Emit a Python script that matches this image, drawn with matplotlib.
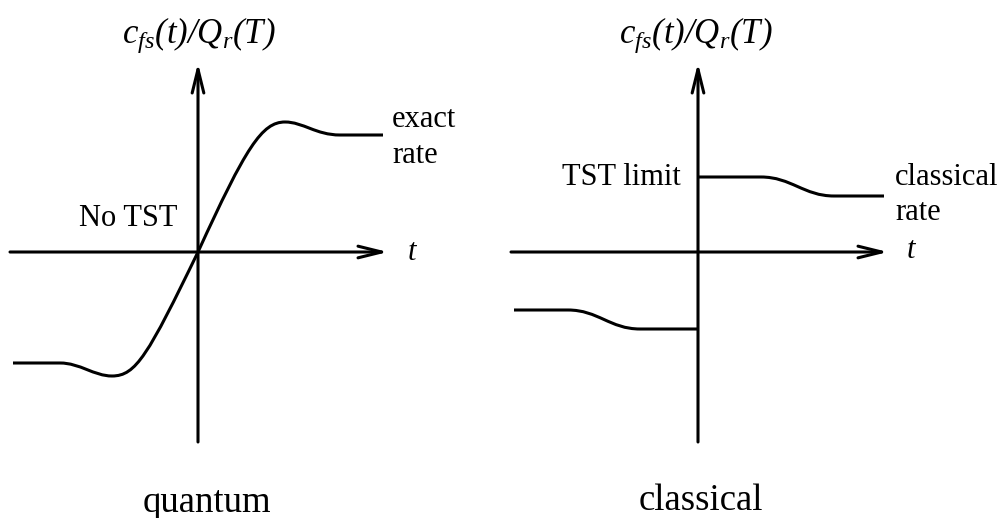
import matplotlib
matplotlib.use("Agg")
import matplotlib.pyplot as plt
from matplotlib.path import Path
from matplotlib.patches import PathPatch

plt.rcParams["font.family"] = ["Liberation Serif", "DejaVu Serif"]
plt.rcParams["mathtext.fontset"] = "custom"
plt.rcParams["mathtext.rm"] = "Liberation Serif:italic"
plt.rcParams["mathtext.it"] = "Liberation Serif:italic"

# flux-side correlation sketches, t and c in arbitrary units
# each curve is a chain of line / cubic Bezier pieces
quantum_t = [-1.85, -1.38, -1.18, -1.04, -0.86, -0.62, -0.50, 0.0,
             0.48, 0.64, 0.87, 1.05, 1.18, 1.42, 1.85]
quantum_c = [-1.11, -1.11, -1.11, -1.24, -1.24, -1.24, -1.03, 0.0,
             1.05, 1.30, 1.30, 1.30, 1.17, 1.17, 1.17]
quantum_codes = [Path.MOVETO, Path.LINETO,
                 Path.CURVE4, Path.CURVE4, Path.CURVE4,
                 Path.CURVE4, Path.CURVE4, Path.CURVE4,
                 Path.CURVE4, Path.CURVE4, Path.CURVE4,
                 Path.CURVE4, Path.CURVE4, Path.CURVE4,
                 Path.LINETO]

classical_pos_t = [0.0, 0.63, 0.93, 1.06, 1.36, 1.86]
classical_pos_c = [0.75, 0.75, 0.75, 0.56, 0.56, 0.56]
classical_neg_t = [-1.84, -1.30, -1.00, -0.88, -0.58, 0.0]
classical_neg_c = [-0.58, -0.58, -0.58, -0.77, -0.77, -0.77]
step_codes = [Path.MOVETO, Path.LINETO,
              Path.CURVE4, Path.CURVE4, Path.CURVE4, Path.LINETO]

ylabel = r"$c_{fs}(t)/Q_r(T)$"
panel_titles = ["quantum", "classical"]

LW = 2.2
FS_LABEL = 22
FS_YLABEL = 25
FS_TITLE = 26.5

fig = plt.figure(figsize=(10.03, 5.18), dpi=100)
ax_q = fig.add_axes([0.0, 0.0, 0.5, 1.0])
ax_c = fig.add_axes([0.5, 0.0, 0.5, 1.0])
ax_q.set_xlim(-1.98, 3.035)
ax_c.set_xlim(-1.965, 3.05)
for ax in (ax_q, ax_c):
    ax.set_ylim(-2.66, 2.52)
    ax.axis("off")


def draw_axes(ax, x0, x1, y0, y1):
    arrow = dict(arrowstyle="->,head_length=1.7,head_width=0.42",
                 lw=LW, color="black", shrinkA=0, shrinkB=0)
    ax.annotate("", xy=(x1, 0), xytext=(x0, 0), arrowprops=arrow)
    ax.annotate("", xy=(0, y1), xytext=(0, y0), arrowprops=arrow)


def draw_curve(ax, t, c, codes):
    path = Path(list(zip(t, c)), codes)
    ax.add_patch(PathPatch(path, fill=False, lw=LW, edgecolor="black",
                           capstyle="butt", joinstyle="round"))


# quantum panel
draw_axes(ax_q, -1.88, 1.90, -1.90, 1.89)
draw_curve(ax_q, quantum_t, quantum_c, quantum_codes)
ax_q.text(0.01, 2.09, ylabel, fontsize=FS_YLABEL, ha="center", va="baseline")
ax_q.text(2.09, -0.08, r"$t$", fontsize=FS_LABEL, ha="left", va="baseline")
ax_q.text(-0.20, 0.26, "No TST", fontsize=FS_LABEL, ha="right", va="baseline")
ax_q.text(1.94, 1.25, "exact", fontsize=FS_LABEL, ha="left", va="baseline")
ax_q.text(1.94, 0.89, "rate", fontsize=FS_LABEL, ha="left", va="baseline")
ax_q.text(0.09, -2.60, panel_titles[0], fontsize=FS_TITLE, ha="center",
          va="baseline")

# classical panel
draw_axes(ax_c, -1.87, 1.90, -1.90, 1.89)
draw_curve(ax_c, classical_pos_t, classical_pos_c, step_codes)
draw_curve(ax_c, classical_neg_t, classical_neg_c, step_codes)
ax_c.text(-0.02, 2.09, ylabel, fontsize=FS_YLABEL, ha="center", va="baseline")
ax_c.text(2.08, -0.06, r"$t$", fontsize=FS_LABEL, ha="left", va="baseline")
ax_c.text(-0.17, 0.67, "TST limit", fontsize=FS_LABEL, ha="right",
          va="baseline")
ax_c.text(1.97, 0.67, "classical", fontsize=FS_LABEL, ha="left", va="baseline")
ax_c.text(1.97, 0.32, "rate", fontsize=FS_LABEL, ha="left", va="baseline")
ax_c.text(0.03, -2.58, panel_titles[1], fontsize=FS_TITLE, ha="center",
          va="baseline")

fig.savefig("out.png", dpi=100, facecolor="white")
